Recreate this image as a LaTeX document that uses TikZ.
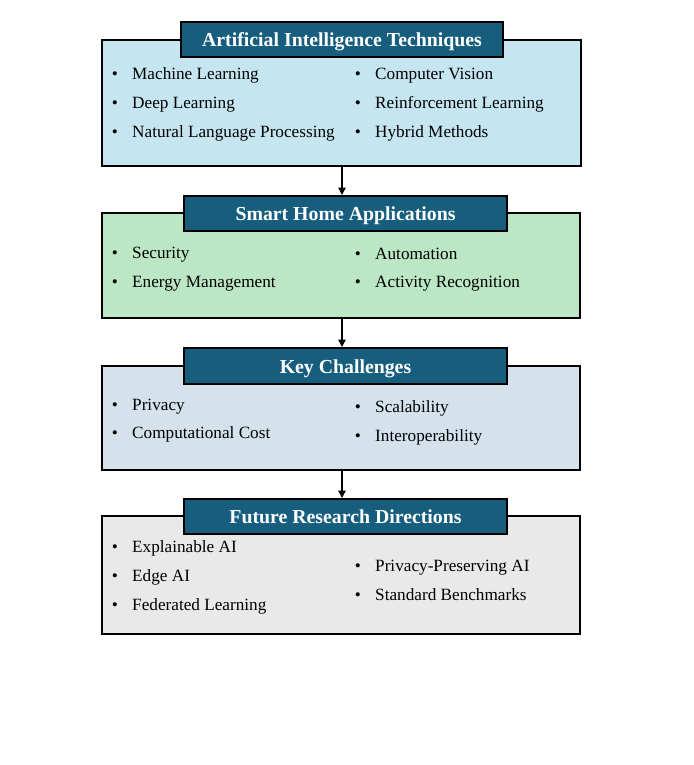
\documentclass[tikz,border=0pt]{standalone}
\usepackage{fontspec}
\setmainfont{Liberation Serif}
\usetikzlibrary{arrows.meta}
\definecolor{cA}{RGB}{197,230,241}
\definecolor{cB}{RGB}{188,231,196}
\definecolor{cC}{RGB}{213,226,236}
\definecolor{cD}{RGB}{233,233,233}
\definecolor{ttl}{RGB}{23,94,126}
\tikzset{
  outerbox/.style={draw=black, line width=2pt, inner sep=0pt},
  titlebox/.style={draw=black, line width=2pt, fill=ttl, text=white, inner sep=0pt,
     text height=18.6pt, text depth=4pt,
     font=\fontsize{19.8}{22}\selectfont\bfseries},
  itemtxt/.style={anchor=base west, inner sep=0pt, font=\fontsize{17.2}{20}\selectfont},
  bul/.style={anchor=base, inner sep=0pt, font=\fontsize{17.2}{20}\selectfont},
  arr/.style={draw=black, line width=1.4pt, -{Triangle[length=7.5pt,width=7.5pt]}}
}
\begin{document}
\begin{tikzpicture}[x=1pt,y=1pt]
\useasboundingbox (0,0) rectangle (693,-765);
% boxes
\node[outerbox, fill=cA, minimum width=479pt, minimum height=126pt] (b1) at (341.5,-103) {};
\node[titlebox, minimum width=322pt, minimum height=35pt] (t1) at (342,-39.5) {Artificial Intelligence Techniques};
\node[outerbox, fill=cB, minimum width=478pt, minimum height=105pt] (b2) at (341,-265.5) {};
\node[titlebox, minimum width=323pt, minimum height=35pt] (t2) at (345.5,-213.5) {Smart Home Applications};
\node[outerbox, fill=cC, minimum width=478pt, minimum height=104pt] (b3) at (341,-418) {};
\node[titlebox, minimum width=323pt, minimum height=36pt] (t3) at (345.5,-366) {Key Challenges};
\node[outerbox, fill=cD, minimum width=478pt, minimum height=118pt] (b4) at (341,-575) {};
\node[titlebox, minimum width=323pt, minimum height=35pt] (t4) at (345.5,-516.5) {Future Research Directions};
% arrows
\draw[arr] (b1.south -| 342,0) -- (342,0 |- t2.north);
\draw[arr] (b2.south -| 342,0) -- (342,0 |- t3.north);
\draw[arr] (b3.south -| 342,0) -- (342,0 |- t4.north);
% box 1 items
\node[bul] (p1a) at (115,-80) {•};   \node[itemtxt] (i1a) at (132,-80) {Machine Learning};
\node[bul] (p1b) at (115,-109) {•};  \node[itemtxt] (i1b) at (132,-109) {Deep Learning};
\node[bul] (p1c) at (115,-138) {•};  \node[itemtxt] (i1c) at (132,-138) {Natural Language Processing};
\node[bul] (p1d) at (358,-80) {•};   \node[itemtxt] (i1d) at (375,-80) {Computer Vision};
\node[bul] (p1e) at (358,-109) {•};  \node[itemtxt] (i1e) at (375,-109) {Reinforcement Learning};
\node[bul] (p1f) at (358,-138) {•};  \node[itemtxt] (i1f) at (375,-138) {Hybrid Methods};
% box 2 items
\node[bul] (p2a) at (115,-258.5) {•}; \node[itemtxt] (i2a) at (132,-258.5) {Security};
\node[bul] (p2b) at (115,-287) {•};   \node[itemtxt] (i2b) at (132,-287) {Energy Management};
\node[bul] (p2c) at (358,-259) {•};   \node[itemtxt] (i2c) at (375,-259) {Automation};
\node[bul] (p2d) at (358,-287.5) {•}; \node[itemtxt] (i2d) at (375,-287.5) {Activity Recognition};
% box 3 items
\node[bul] (p3a) at (115,-410) {•};   \node[itemtxt] (i3a) at (132,-410) {Privacy};
\node[bul] (p3b) at (115,-438.7) {•}; \node[itemtxt] (i3b) at (132,-438.7) {Computational Cost};
\node[bul] (p3c) at (358,-412.7) {•}; \node[itemtxt] (i3c) at (375,-412.7) {Scalability};
\node[bul] (p3d) at (358,-441.3) {•}; \node[itemtxt] (i3d) at (375,-441.3) {Interoperability};
% box 4 items
\node[bul] (p4a) at (115,-552.7) {•}; \node[itemtxt] (i4a) at (132,-552.7) {Explainable AI};
\node[bul] (p4b) at (115,-581.7) {•}; \node[itemtxt] (i4b) at (132,-581.7) {Edge AI};
\node[bul] (p4c) at (115,-610.7) {•}; \node[itemtxt] (i4c) at (132,-610.7) {Federated Learning};
\node[bul] (p4d) at (358,-571.7) {•}; \node[itemtxt] (i4d) at (375,-571.7) {Privacy-Preserving AI};
\node[bul] (p4e) at (358,-600.3) {•}; \node[itemtxt] (i4e) at (375,-600.3) {Standard Benchmarks};
\end{tikzpicture}
\end{document}
